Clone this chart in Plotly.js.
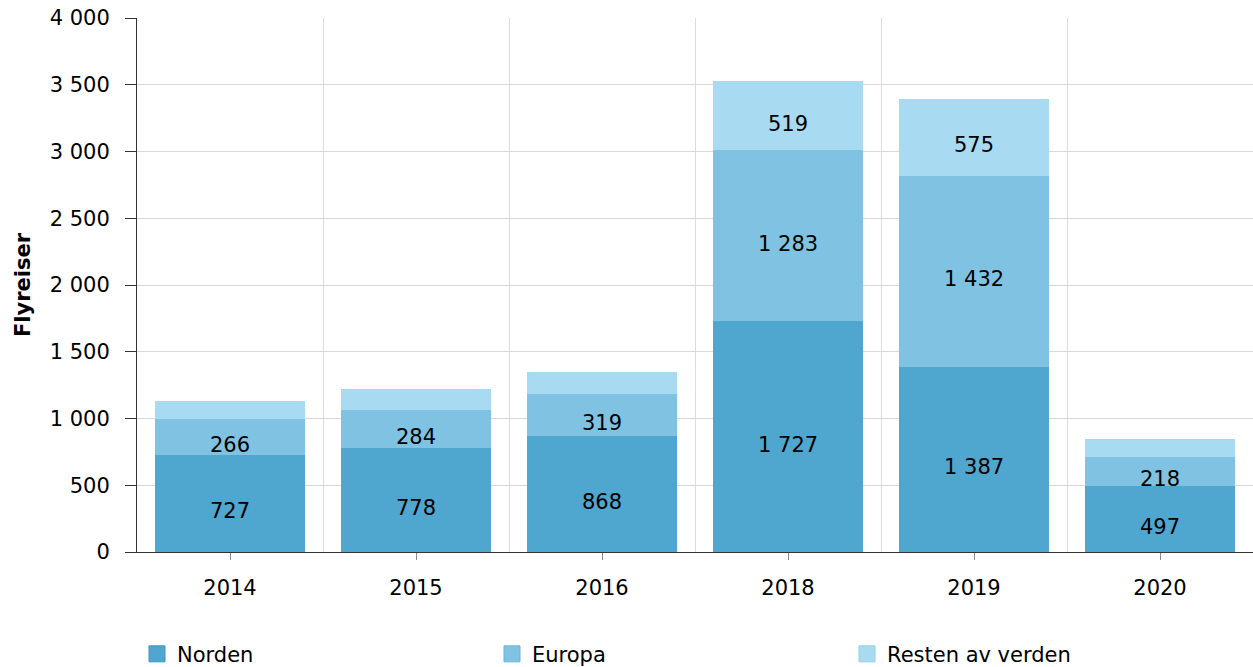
<!DOCTYPE html>
<html><head><meta charset="utf-8">
<script src="https://cdn.plot.ly/plotly-3.0.1.min.js"></script>
<style>html,body{margin:0;padding:0;background:#fff}#c{width:1253px;height:667px}</style>
</head><body><div id="c"></div>
<script>
const years = ['2014','2015','2016','2018','2019','2020'];
const norden = [727, 778, 868, 1727, 1387, 497];
const europa = [266, 284, 319, 1283, 1432, 218];
const resten = [137, 158, 165, 519, 575, 130];
const seriesNames = ['Norden','Europa','Resten av verden'];
const colors = ['rgb(79,166,206)','rgb(128,194,226)','rgb(168,219,242)'];
const borderColors = ['rgb(60,150,195)','rgb(110,180,215)','rgb(150,205,235)'];
const yTicks = [0,500,1000,1500,2000,2500,3000,3500,4000];

const FONT = '"DejaVu Sans", Verdana, sans-serif';
const FS = 21;
function fmt(v){ return String(v).replace(/\B(?=(\d{3})+(?!\d))/g, ' '); }

const series = [norden, europa, resten];
const data = [];
series.forEach((vals, i) => {
  data.push({
    type:'bar', x:years, y:vals, name:seriesNames[i], showlegend:false,
    marker:{color:colors[i], line:{width:0}}, hoverinfo:'x+y+name'
  });
});
// legend proxies (no visible data marks)
series.forEach((vals, i) => {
  data.push({
    type:'scatter', x:[years[0]], y:[null], mode:'markers', name:seriesNames[i],
    marker:{symbol:'square', size:28, color:colors[i], line:{width:1, color:borderColors[i]}},
    showlegend:true, hoverinfo:'skip'
  });
});
// invisible trace to populate tick axis
data.push({type:'scatter', x:years, y:norden, xaxis:'x2', mode:'markers', marker:{opacity:0}, showlegend:false, hoverinfo:'skip'});

// value labels (only segments large enough to hold text); x uses category index
const annotations = [];
years.forEach((yr, j) => {
  let base = 0;
  series.forEach((vals, i) => {
    const v = vals[j];
    if (v >= 200) {
      annotations.push({x:j, y:base + v/2, xref:'x', yref:'y', text:fmt(v), showarrow:false,
        yshift:-8, font:{family:FONT, size:FS, color:'#000'}});
    }
    base += v;
  });
});

const layout = {
  width:1253, height:667,
  margin:{l:137, r:0, t:18, b:115, autoexpand:false},
  barmode:'stack', bargap:0.194,
  font:{family:FONT, size:FS, color:'#000'},
  paper_bgcolor:'#fff', plot_bgcolor:'#fff',
  xaxis:{type:'category', categoryorder:'array', categoryarray:years, tickson:'boundaries', showgrid:true, gridcolor:'#dcdcdc', gridwidth:1,
         showticklabels:false, ticks:'', showline:true, linecolor:'#333', linewidth:1, zeroline:false},
  xaxis2:{type:'category', categoryorder:'array', categoryarray:years, overlaying:'x', matches:'x', side:'bottom', showgrid:false, ticks:'outside', ticklen:7,
          tickcolor:'#888', tickfont:{family:FONT, size:FS, color:'#000'}, ticklabelstandoff:10,
          showline:false, zeroline:false},
  yaxis:{range:[0,4000], tickvals:yTicks, tickformat:',', showgrid:true, gridcolor:'#d9d9d9', gridwidth:1,
         ticks:'outside', ticklen:11, tickcolor:'#333', showline:true, linecolor:'#333', linewidth:1,
         zeroline:false, tickfont:{family:FONT, size:FS, color:'#000'}, ticklabelstandoff:11,
         title:{text:'<b>Flyreiser</b>', font:{family:FONT, size:FS, color:'#000'}, standoff:13}},
  separators:', ',
  legend:{orientation:'h', x:0.0, xanchor:'left', y:-0.153, yanchor:'top', entrywidth:310, entrywidthmode:'pixels',
          font:{family:FONT, size:FS, color:'#000'}, traceorder:'normal', itemsizing:'trace'},
  annotations: annotations,
  showlegend:true
};
Plotly.newPlot('c', data, layout, {displayModeBar:false, staticPlot:true});
</script></body></html>
